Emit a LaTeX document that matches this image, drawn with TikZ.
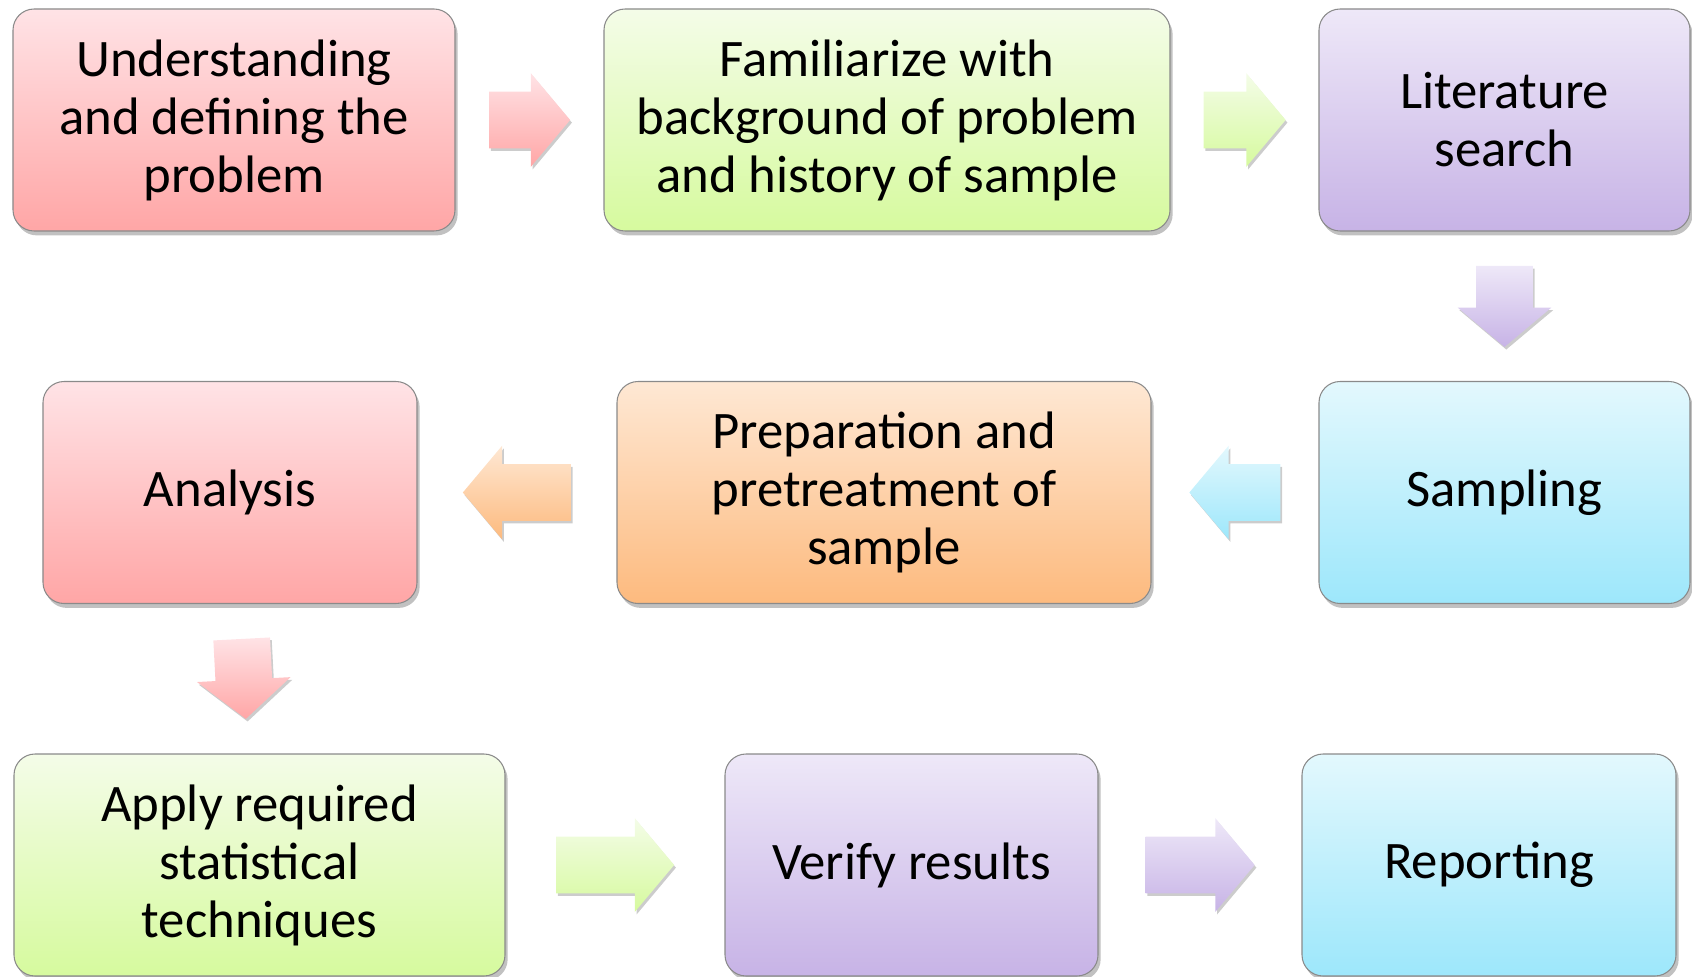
\documentclass[tikz,border=0pt]{standalone}
\usepackage{fontspec}
\setmainfont{Carlito}
\usetikzlibrary{shapes.arrows,shadows,calc}

\definecolor{pinkTop}{HTML}{FFE3E6}
\definecolor{pinkBot}{HTML}{FFA6A6}
\definecolor{greenTop}{HTML}{F4FCE8}
\definecolor{greenBot}{HTML}{D6FA9E}
\definecolor{purpleTop}{HTML}{EEE8F8}
\definecolor{purpleBot}{HTML}{C7B3E6}
\definecolor{blueTop}{HTML}{E3F8FD}
\definecolor{blueBot}{HTML}{9DE7FB}
\definecolor{orangeTop}{HTML}{FEE8D4}
\definecolor{orangeBot}{HTML}{FDBA7E}
\definecolor{boxline}{HTML}{8A8A8A}

\newcommand{\hshaft}[1]{\phantom{\rule{#1}{11.2mm}}}
\newcommand{\vshaft}[1]{\phantom{\rule{11.2mm}{#1}}}

\begin{document}
\begin{tikzpicture}[x=0.2mm,y=-0.2mm]
	\tikzstyle{every node}+=[inner sep=0pt, align=center, font=\fontsize{30}{33}\selectfont]
	\tikzstyle{stage}=[rectangle, draw=boxline, line width=0.6pt, rounded corners=12pt, minimum height=44.4mm, drop shadow={shadow xshift=1.5pt, shadow yshift=-2.5pt, opacity=0.35, fill=black!70}]
	\tikzstyle{flow}=[single arrow, single arrow head extend=3.7mm, single arrow tip angle=100, single arrow head indent=0pt, inner sep=0pt, drop shadow={shadow xshift=1pt, shadow yshift=-1.5pt, opacity=0.2, fill=black}]
	\tikzstyle{pinkfill}=[top color=pinkTop, bottom color=pinkBot]
	\tikzstyle{greenfill}=[top color=greenTop, bottom color=greenBot]
	\tikzstyle{purplefill}=[top color=purpleTop, bottom color=purpleBot]
	\tikzstyle{bluefill}=[top color=blueTop, bottom color=blueBot]
	\tikzstyle{orangefill}=[top color=orangeTop, bottom color=orangeBot]
	\useasboundingbox (0,0) rectangle (1692,977);
	\node [stage, pinkfill, minimum width=88.4mm] (define) at (234,120) {Understanding\\and defining the\\problem};
	\node [stage, greenfill, minimum width=113.2mm] (background) at (887,120) {Familiarize with\\background of problem\\and history of sample};
	\node [stage, purplefill, minimum width=74.2mm] (literature) at (1504.5,120) {Literature\\search};
	\node [stage, bluefill, minimum width=74.2mm] (sampling) at (1504.5,492.5) {Sampling};
	\node [stage, orangefill, minimum width=106.8mm] (prepare) at (884,492.5) {Preparation and\\pretreatment of\\sample};
	\node [stage, pinkfill, minimum width=74.8mm] (analysis) at (230,492.5) {Analysis};
	\node [stage, greenfill, minimum width=98.2mm] (apply) at (259.5,865) {Apply required\\statistical\\techniques};
	\node [stage, purplefill, minimum width=74.6mm] (verify) at (911.5,865) {Verify results};
	\node [stage, bluefill, minimum width=74.8mm] (report) at (1489,865) {Reporting};
	\node [flow, pinkfill, xshift=-2.35mm] (f1) at ($(define.east)!0.5!(background.west)$) {\hshaft{11.3mm}};
	\node [flow, greenfill, xshift=-2.35mm] (f2) at ($(background.east)!0.5!(literature.west)$) {\hshaft{11.5mm}};
	\node [flow, purplefill, shape border rotate=270, yshift=2.35mm] (f3) at ($(literature.south)!0.5!(sampling.north)$) {\vshaft{11.3mm}};
	\node [flow, bluefill, shape border rotate=180, xshift=2.35mm] (f4) at ($(sampling.west)!0.5!(prepare.east)$) {\hshaft{13.3mm}};
	\node [flow, orangefill, shape border rotate=180, xshift=2.35mm] (f5) at ($(prepare.west)!0.5!(analysis.east)$) {\hshaft{16.7mm}};
	\node [flow, pinkfill, shape border rotate=270, rotate=3, yshift=2.35mm] (f6) at ($(analysis.south)!0.5!(apply.north)+(-1,0)$) {\vshaft{11.1mm}};
	\node [flow, greenfill, xshift=-2.35mm] (f7) at ($(apply.east)!0.5!(verify.west)$) {\hshaft{18.7mm}};
	\node [flow, purplefill, xshift=-2.35mm] (f8) at ($(verify.east)!0.5!(report.west)$) {\hshaft{16.9mm}};
\end{tikzpicture}
\end{document}
